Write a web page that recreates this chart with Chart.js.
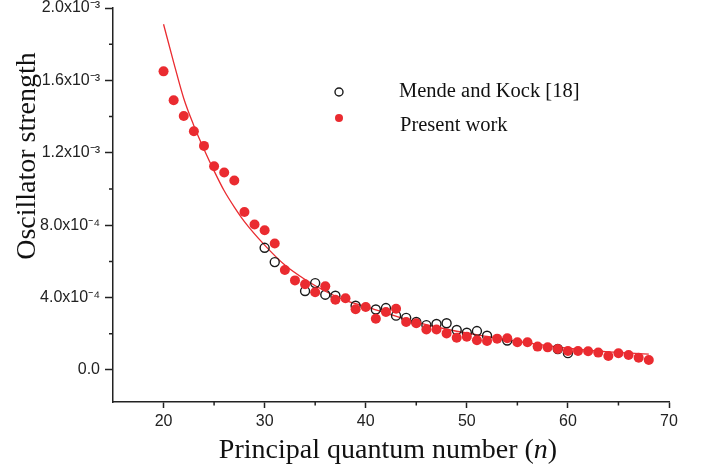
<!DOCTYPE html>
<html>
<head>
<meta charset="utf-8">
<script src="https://cdn.jsdelivr.net/npm/chart.js@4.4.0/dist/chart.umd.min.js"></script>
<style>
  html, body { margin: 0; padding: 0; background: #fff; }
  #wrap { width: 708px; height: 470px; }
</style>
</head>
<body>
<div id="wrap"><canvas id="chartOsc"></canvas></div>
<script>
// datos
var nPresent = [20, 21, 22, 23, 24, 25, 26, 27, 28, 29, 30, 31, 32, 33, 34, 35, 36, 37, 38, 39,
                40, 41, 42, 43, 44, 45, 46, 47, 48, 49, 50, 51, 52, 53, 54, 55, 56, 57, 58, 59,
                60, 61, 62, 63, 64, 65, 66, 67, 68];
var fPresent = [1.65e-3, 1.49e-3, 1.403e-3, 1.319e-3, 1.238e-3, 1.126e-3, 1.091e-3, 1.047e-3, 0.873e-3, 0.804e-3,
                0.772e-3, 0.699e-3, 0.552e-3, 0.495e-3, 0.474e-3, 0.429e-3, 0.462e-3, 0.388e-3, 0.396e-3, 0.335e-3,
                0.348e-3, 0.283e-3, 0.320e-3, 0.338e-3, 0.265e-3, 0.258e-3, 0.224e-3, 0.224e-3, 0.202e-3, 0.178e-3,
                0.184e-3, 0.164e-3, 0.160e-3, 0.173e-3, 0.175e-3, 0.153e-3, 0.153e-3, 0.129e-3, 0.125e-3, 0.116e-3,
                0.105e-3, 0.105e-3, 0.103e-3, 0.096e-3, 0.077e-3, 0.092e-3, 0.083e-3, 0.068e-3, 0.055e-3];

var nMende = [30, 31, 34, 35, 36, 37, 39, 41, 42, 43, 44, 45, 46, 47, 48, 49, 50, 51, 52, 54, 59, 60];
var fMende = [0.675e-3, 0.596e-3, 0.436e-3, 0.480e-3, 0.416e-3, 0.410e-3, 0.355e-3, 0.334e-3, 0.342e-3, 0.300e-3,
              0.288e-3, 0.265e-3, 0.248e-3, 0.254e-3, 0.258e-3, 0.221e-3, 0.206e-3, 0.215e-3, 0.189e-3, 0.163e-3,
              0.116e-3, 0.093e-3];

var nFit = [20, 21, 22, 23, 24, 25, 26, 27, 28, 30, 32, 34, 36, 38, 40, 44, 48, 52, 56, 60, 64, 68];
var fFit = [1.91e-3, 1.70e-3, 1.50e-3, 1.35e-3, 1.22e-3, 1.10e-3, 0.99e-3, 0.90e-3, 0.82e-3, 0.69e-3,
            0.58e-3, 0.50e-3, 0.435e-3, 0.385e-3, 0.35e-3, 0.28e-3, 0.225e-3, 0.185e-3, 0.15e-3, 0.12e-3,
            0.10e-3, 0.088e-3];

var xMajorTicks = [20, 30, 40, 50, 60, 70];
var xMinorTicks = [25, 35, 45, 55, 65];
var yTickValues = [0, 4e-4, 8e-4, 1.2e-3, 1.6e-3, 2.0e-3];
var yTickLabels = ['0.0', '4.0x10\u207B\u2074', '8.0x10\u207B\u2074', '1.2x10\u207B\u00B3', '1.6x10\u207B\u00B3', '2.0x10\u207B\u00B3'];
var yMinorTicks = [2e-4, 6e-4, 1.0e-3, 1.4e-3, 1.8e-3];

var redColor = '#ea2b30';
var axisColor = '#222222';
var serifFont = '"Liberation Serif", "Times New Roman", serif';
var sansFont = '"Liberation Sans", Arial, sans-serif';

function toPoints(xs, ys) {
    return xs.map(function (v, i) { return { x: v, y: ys[i] }; });
}

function sameValue(a, b) {
    return Math.abs(a - b) < 1e-9;
}

var extrasPlugin = {
    id: 'extras',
    afterDraw: function (chart) {
        var ctx = chart.ctx,
            area = chart.chartArea,
            xs = chart.scales.x,
            ys = chart.scales.y;

        ctx.save();

        // ticks menores
        ctx.strokeStyle = axisColor;
        ctx.lineWidth = 1.5;
        ctx.beginPath();
        xMinorTicks.forEach(function (v) {
            var px = xs.getPixelForValue(v);
            ctx.moveTo(px, area.bottom);
            ctx.lineTo(px, area.bottom + 3.5);
        });
        yMinorTicks.forEach(function (v) {
            var py = ys.getPixelForValue(v);
            ctx.moveTo(area.left, py);
            ctx.lineTo(area.left - 4, py);
        });
        ctx.stroke();

        // titulos de ejes
        ctx.fillStyle = '#111';
        ctx.font = '28px ' + serifFont;
        ctx.textBaseline = 'alphabetic';

        ctx.save();
        ctx.translate(35, 156);
        ctx.rotate(-Math.PI / 2);
        ctx.textAlign = 'center';
        ctx.fillText('Oscillator strength', 0, 0);
        ctx.restore();

        var partA = 'Principal quantum number (',
            partB = 'n',
            partC = ')';
        ctx.font = '28px ' + serifFont;
        var wA = ctx.measureText(partA).width,
            wC = ctx.measureText(partC).width;
        ctx.font = 'italic 28px ' + serifFont;
        var wB = ctx.measureText(partB).width;
        var startX = (area.left + area.right) / 2 - 3 - (wA + wB + wC) / 2,
            baseY = 458;
        ctx.textAlign = 'left';
        ctx.font = '28px ' + serifFont;
        ctx.fillText(partA, startX, baseY);
        ctx.font = 'italic 28px ' + serifFont;
        ctx.fillText(partB, startX + wA, baseY);
        ctx.font = '28px ' + serifFont;
        ctx.fillText(partC, startX + wA + wB, baseY);

        // leyenda
        var lx = area.left + 226,
            tx = area.left + 286;
        ctx.beginPath();
        ctx.arc(lx, 92, 4, 0, Math.PI * 2);
        ctx.lineWidth = 1.4;
        ctx.strokeStyle = '#1a1a1a';
        ctx.stroke();
        ctx.beginPath();
        ctx.arc(lx, 118, 4, 0, Math.PI * 2);
        ctx.fillStyle = redColor;
        ctx.fill();

        ctx.fillStyle = '#111';
        ctx.font = '20.5px ' + serifFont;
        ctx.fillText(chart.data.datasets[1].label, tx, 97);
        ctx.fillText(chart.data.datasets[0].label, tx + 1, 131);

        ctx.restore();
    }
};

var CHARTOSC = document.getElementById('chartOsc');

var chartOsc = new Chart(CHARTOSC, {
    type: 'scatter',
    data: {
        datasets: [{
            label: 'Present work',
            data: toPoints(nPresent, fPresent),
            backgroundColor: redColor,
            borderColor: redColor,
            borderWidth: 0,
            pointRadius: 5,
            pointHoverRadius: 5
        }, {
            label: 'Mende and Kock [18]',
            data: toPoints(nMende, fMende),
            backgroundColor: 'rgba(255,255,255,0)',
            borderColor: '#1a1a1a',
            borderWidth: 1.4,
            pointRadius: 4.5,
            pointHoverRadius: 4.5
        }, {
            label: 'fit',
            data: toPoints(nFit, fFit),
            showLine: true,
            borderColor: redColor,
            borderWidth: 1.3,
            pointRadius: 0,
            pointHoverRadius: 0,
            cubicInterpolationMode: 'monotone',
            fill: false
        }]
    },
    options: {
        responsive: true,
        maintainAspectRatio: false,
        animation: false,
        devicePixelRatio: 1,
        layout: { padding: { left: 0, right: 39, top: 8, bottom: 0 } },
        plugins: {
            legend: { display: false },
            tooltip: { enabled: false }
        },
        scales: {
            x: {
                type: 'linear',
                min: 15,
                max: 70,
                afterFit: function (scale) { scale.height = 68; },
                afterBuildTicks: function (scale) {
                    scale.ticks = xMajorTicks.map(function (v) { return { value: v }; });
                },
                grid: {
                    display: true,
                    drawOnChartArea: false,
                    drawTicks: true,
                    tickLength: 6,
                    tickWidth: 1.5,
                    tickColor: axisColor
                },
                border: { display: true, color: axisColor, width: 1.5 },
                ticks: {
                    padding: 4,
                    color: '#222',
                    font: { family: sansFont, size: 16 },
                    maxRotation: 0,
                    callback: function (value) { return String(value); }
                }
            },
            y: {
                type: 'linear',
                min: -1.77e-4,
                max: 2.0e-3,
                afterFit: function (scale) {
                    scale.width = 113;
                    scale.paddingTop = 0;
                    scale.paddingBottom = 0;
                },
                afterBuildTicks: function (scale) {
                    scale.ticks = yTickValues.map(function (v) { return { value: v }; });
                },
                grid: {
                    display: true,
                    drawOnChartArea: false,
                    drawTicks: true,
                    tickLength: 8,
                    tickWidth: 1.5,
                    tickColor: axisColor
                },
                border: { display: true, color: axisColor, width: 1.5 },
                ticks: {
                    padding: 5,
                    color: '#222',
                    font: { family: sansFont, size: 16 },
                    callback: function (value) {
                        for (var i = 0; i < yTickValues.length; i++) {
                            if (sameValue(yTickValues[i], value)) { return yTickLabels[i]; }
                        }
                        return '';
                    }
                }
            }
        }
    },
    plugins: [extrasPlugin]
});
</script>
</body>
</html>
